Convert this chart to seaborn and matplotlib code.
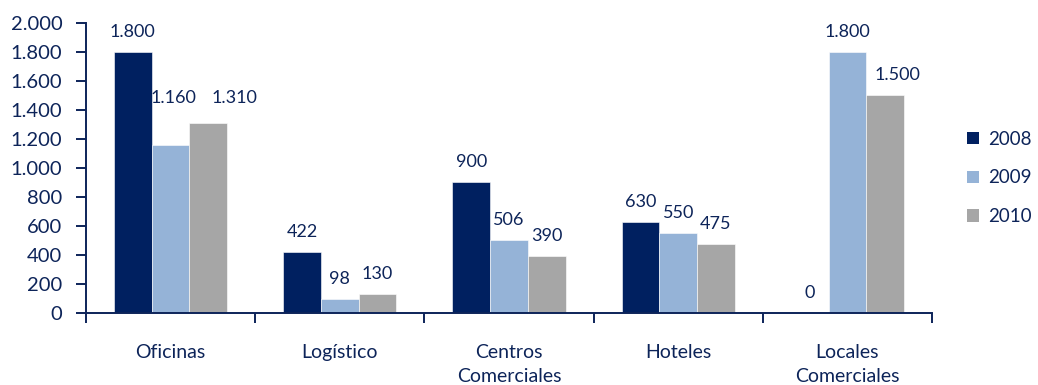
import numpy as np
import pandas as pd
import matplotlib
matplotlib.use("Agg")
import matplotlib.pyplot as plt
from matplotlib.patches import Patch
from matplotlib.ticker import FuncFormatter, FixedLocator
import seaborn as sns

# Investment volume by segment and year
categories = ["Oficinas", "Logístico", "Centros\nComerciales", "Hoteles", "Locales\nComerciales"]
years = ["2008", "2009", "2010"]
values_2008 = [1800, 422, 900, 630, 0]
values_2009 = [1160, 98, 506, 550, 1800]
values_2010 = [1310, 130, 390, 475, 1500]

colors = ["#002060", "#95B3D7", "#A6A6A6"]
text_color = "#0D2459"

sns.set_theme(style="white")
plt.rcParams["font.family"] = ["Lato", "DejaVu Sans"]

df = pd.DataFrame({
    "categoria": categories * 3,
    "year": np.repeat(years, len(categories)),
    "valor": values_2008 + values_2009 + values_2010,
})

fig = plt.figure(figsize=(10.38, 3.85), dpi=100)
ax = fig.add_axes([86 / 1038, 72 / 385, (932 - 86) / 1038, (313 - 23) / 385])

sns.barplot(data=df, x="categoria", y="valor", hue="year", order=categories,
            hue_order=years, palette=colors, width=0.67, saturation=1,
            edgecolor="white", linewidth=0.4, legend=False, ax=ax)

ax.set_xlim(-0.5, len(categories) - 0.5)
ax.set_ylim(0, 2000)
ax.set_yticks(np.arange(0, 2001, 200))
ax.yaxis.set_major_formatter(FuncFormatter(lambda v, _: f"{int(v):,}".replace(",", ".")))
ax.set_xlabel("")
ax.set_ylabel("")

for side in ["top", "right"]:
    ax.spines[side].set_visible(False)
for side in ["left", "bottom"]:
    ax.spines[side].set_color(text_color)
    ax.spines[side].set_linewidth(1.4)

ax.tick_params(axis="y", direction="out", length=7, width=1.4, color=text_color,
               labelcolor=text_color, labelsize=14.5, pad=10, left=True)
ax.tick_params(axis="x", which="major", length=0, labelcolor=text_color,
               labelsize=14, pad=22, bottom=True)
ax.xaxis.set_minor_locator(FixedLocator(np.arange(-0.5, len(categories), 1.0)))
ax.tick_params(axis="x", which="minor", direction="out", length=7, width=1.4,
               color=text_color, bottom=True)
for lbl in ax.get_xticklabels():
    lbl.set_linespacing(1.55)
    lbl.set_verticalalignment("top")

# Value labels above bars, a few nudged to keep them clear of neighbours
nudges = {("Oficinas", "2009"): (3, 27), ("Oficinas", "2010"): (26, 5),
          ("Locales\nComerciales", "2010"): (12, 0)}
for year, container in zip(years, ax.containers):
    for cat, bar in zip(categories, container):
        h = bar.get_height()
        dx, dy = nudges.get((cat, year), (0, 0))
        ax.annotate(f"{int(h):,}".replace(",", "."),
                    (bar.get_x() + bar.get_width() / 2, h),
                    xytext=(dx * 0.72, (20 + dy) * 0.72), textcoords="offset points",
                    ha="center", va="center", fontsize=13, color=text_color)

handles = [Patch(facecolor=c, edgecolor="none", label=y) for c, y in zip(colors, years)]
fig.legend(handles=handles, loc="center left", bbox_to_anchor=(967 / 1038, 1 - 178 / 385),
           frameon=False, fontsize=13.5, labelcolor=text_color, handlelength=0.62,
           handleheight=0.62, handletextpad=0.5, labelspacing=1.15, borderaxespad=0,
           borderpad=0)

fig.savefig("out.png", dpi=100, facecolor="white")
